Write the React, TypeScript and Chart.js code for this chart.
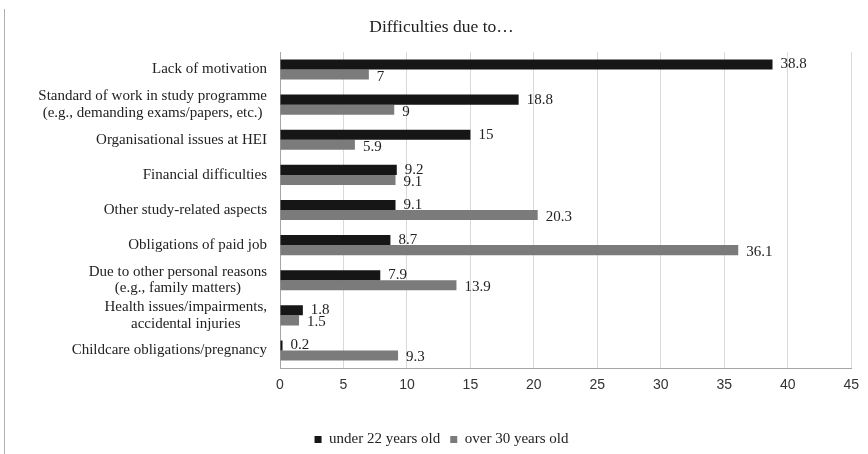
import React, { useEffect, useRef } from "react";
import { Chart, registerables } from "chart.js";

Chart.register(...registerables);

const categories: (string | string[])[] = [
  "Lack of motivation",
  ["Standard of work in study programme", "(e.g., demanding exams/papers, etc.)"],
  "Organisational issues at HEI",
  "Financial difficulties",
  "Other study-related aspects",
  "Obligations of paid job",
  ["Due to other personal reasons", "(e.g., family matters)"],
  ["Health issues/impairments,", "accidental injuries"],
  "Childcare obligations/pregnancy",
];

const under22 = [38.8, 18.8, 15, 9.2, 9.1, 8.7, 7.9, 1.8, 0.2];
const over30 = [7, 9, 5.9, 9.1, 20.3, 36.1, 13.9, 1.5, 9.3];

const seriesNames = ["under 22 years old", "over 30 years old"];
const titleText = "Difficulties due to…";

const SERIF = "'Liberation Serif', 'Times New Roman', serif";
const SANS = "'Liberation Sans', Arial, sans-serif";

const labelPlugin = {
  id: "valueLabels",
  afterDatasetsDraw(chart: any) {
    const ctx = chart.ctx;
    ctx.save();
    ctx.font = `15px ${SERIF}`;
    ctx.fillStyle = "#222";
    ctx.textAlign = "left";
    ctx.textBaseline = "middle";
    chart.data.datasets.forEach((ds: any, di: number) => {
      const meta = chart.getDatasetMeta(di);
      meta.data.forEach((el: any, i: number) => {
        ctx.fillText(String(ds.data[i]), el.x + 8, el.y + (di === 0 ? 0 : 2));
      });
    });
    ctx.restore();
  },
};

// Category labels: block right-aligned to the axis, lines centred within the block
const categoryLabelPlugin = {
  id: "categoryLabels",
  afterDraw(chart: any) {
    const ctx = chart.ctx;
    const yScale = chart.scales.y;
    const rightEdge = chart.chartArea.left - 13;
    const lineH = 16.5;
    ctx.save();
    ctx.font = `15px ${SERIF}`;
    ctx.fillStyle = "#222";
    ctx.textAlign = "center";
    ctx.textBaseline = "middle";
    (chart.data.labels as (string | string[])[]).forEach((lab, i) => {
      const lines = Array.isArray(lab) ? lab : [lab];
      const w = Math.max(...lines.map((l) => ctx.measureText(l).width));
      const cx = rightEdge - w / 2;
      const cy = yScale.getPixelForTick(i);
      lines.forEach((l, k) => {
        ctx.fillText(l, cx, cy + (k - (lines.length - 1) / 2) * lineH);
      });
    });
    ctx.restore();
  },
};

const borderPlugin = {
  id: "leftBorder",
  afterDraw(chart: any) {
    const ctx = chart.ctx;
    ctx.save();
    ctx.strokeStyle = "#b0b0b0";
    ctx.lineWidth = 1;
    ctx.beginPath();
    ctx.moveTo(4.5, 9);
    ctx.lineTo(4.5, 454);
    ctx.stroke();
    ctx.restore();
  },
};

export default function App() {
  const ref = useRef<HTMLCanvasElement>(null);
  useEffect(() => {
    if (!ref.current) return;
    const chart = new Chart(ref.current, {
      type: "bar",
      data: {
        labels: categories,
        datasets: [
          {
            label: seriesNames[0],
            data: under22,
            backgroundColor: "#161616",
            categoryPercentage: 0.572,
            barPercentage: 1,
          },
          {
            label: seriesNames[1],
            data: over30,
            backgroundColor: "#7b7b7b",
            categoryPercentage: 0.572,
            barPercentage: 1,
          },
        ],
      },
      options: {
        indexAxis: "y",
        responsive: false,
        animation: false,
        layout: { padding: { left: 15, right: 0, top: 9, bottom: -3 } },
        scales: {
          x: {
            min: 0,
            max: 45,
            ticks: {
              stepSize: 5,
              font: { family: SANS, size: 14 },
              color: "#333",
              padding: 9,
            },
            grid: { color: "#d9d9d9", drawTicks: false },
            border: { color: "#a6a6a6" },
            afterFit: (s: any) => {
              s.height = 54;
            },
          },
          y: {
            ticks: { display: false, autoSkip: false },
            grid: { display: false, drawTicks: false },
            border: { color: "#a6a6a6" },
            afterFit: (s: any) => {
              s.width = 265;
            },
          },
          yRight: {
            type: "linear",
            position: "right",
            display: true,
            ticks: { display: false },
            grid: { display: false, drawTicks: false },
            border: { display: false },
            afterFit: (s: any) => {
              s.width = 15;
            },
          },
        },
        plugins: {
          title: {
            display: true,
            text: titleText,
            font: { family: SERIF, size: 17.5, weight: "normal" },
            color: "#222",
            padding: { top: 8, bottom: 14 },
          },
          legend: {
            position: "bottom",
            labels: {
              font: { family: SERIF, size: 15 },
              color: "#222",
              boxWidth: 7,
              boxHeight: 7,
              padding: 10,
            },
          },
          tooltip: { enabled: false },
        },
      },
      plugins: [labelPlugin, categoryLabelPlugin, borderPlugin],
    });
    return () => chart.destroy();
  }, []);
  return (
    <canvas
      ref={ref}
      width={868}
      height={454}
      style={{ position: "absolute", left: 0, top: 0, display: "block" }}
    />
  );
}
